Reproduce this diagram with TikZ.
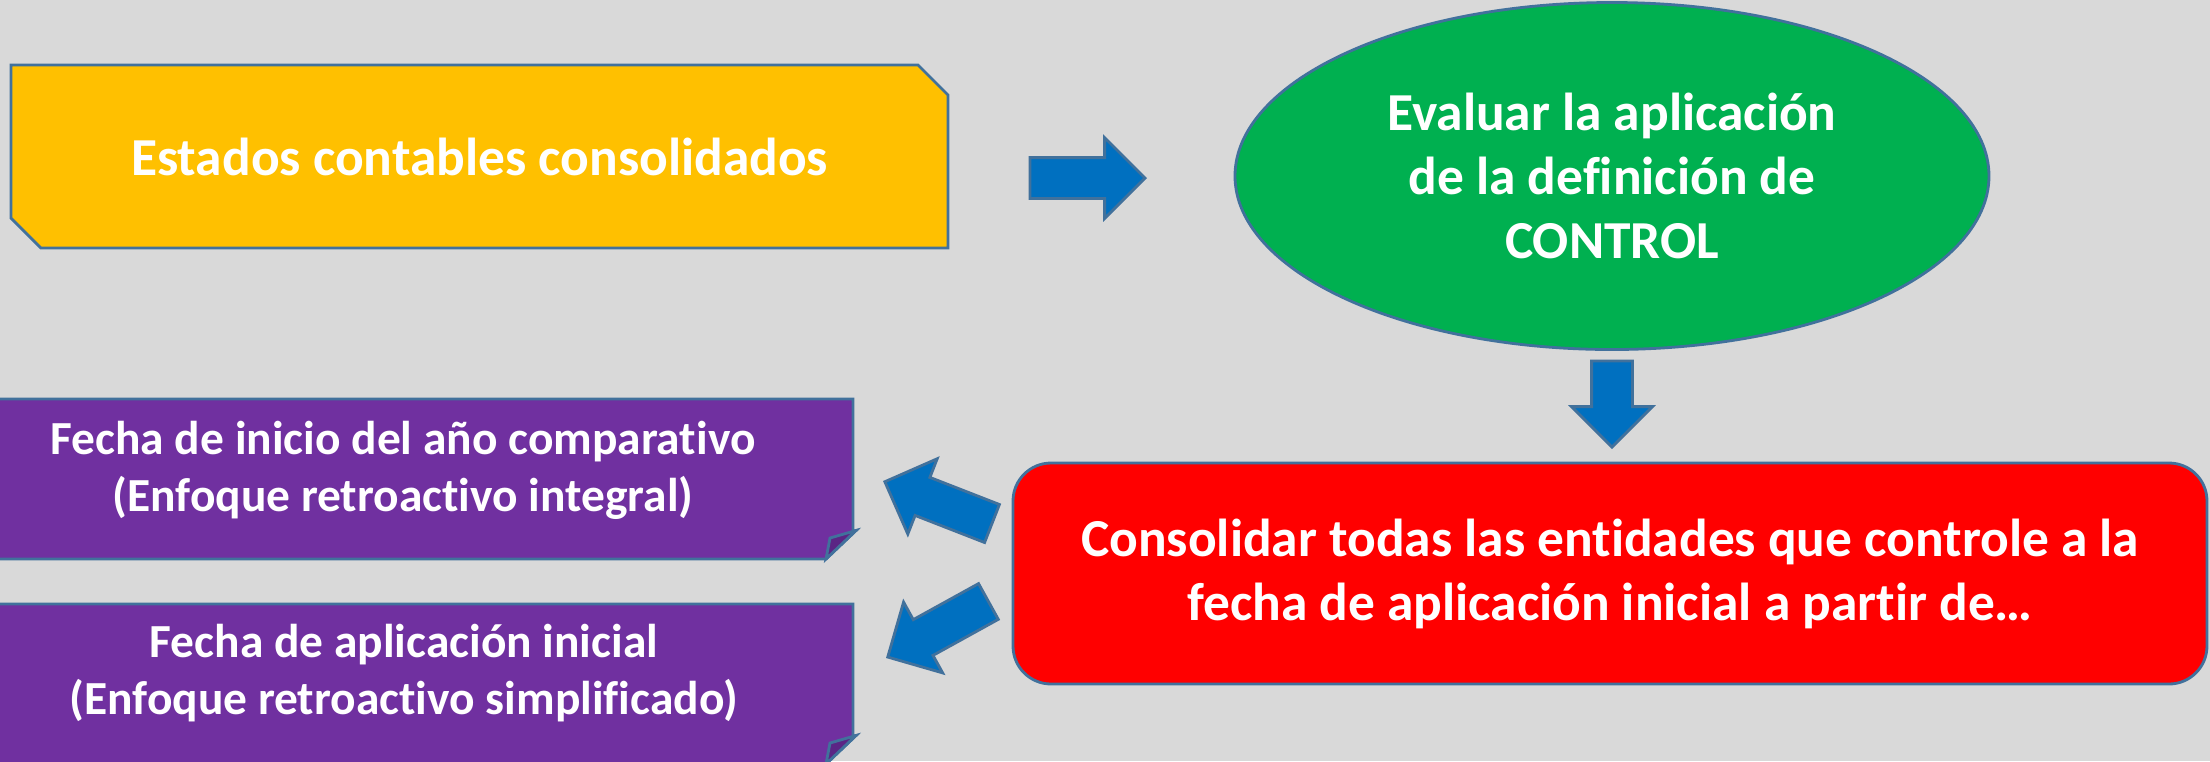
\documentclass[tikz,border=0pt]{standalone}
\usepackage{fontspec}
\setmainfont{Carlito}[Ligatures={NoCommon,NoRequired}]
\usetikzlibrary{positioning,shapes.geometric,shapes.arrows,shapes.misc}
\definecolor{fondo}{HTML}{D9D9D9}
\definecolor{borde}{HTML}{41719C}
\definecolor{amarillo}{HTML}{FFC000}
\definecolor{verde}{HTML}{00B050}
\definecolor{rojo}{HTML}{FF0000}
\definecolor{violeta}{HTML}{7030A0}
\definecolor{violetaosc}{HTML}{5B2585}
\definecolor{azul}{HTML}{0070C0}

\begin{document}
\begin{tikzpicture}
    [font=\fontsize{15.2}{18.2}\selectfont\bfseries,
    every node/.style={text=white, align=center, inner sep=0pt},
    caja/.style={draw=borde, line width=0.8pt},
    flecha/.style={caja, fill=azul, single arrow, single arrow head extend=0.2cm,
        inner xsep=0pt, inner ysep=0.19cm, minimum width=0.78cm,
        minimum height=1.15cm, anchor=tip},
    fecha/.style={font=\fontsize{13.5}{16.2}\selectfont\bfseries}]
    \fill[fondo] (0,0) rectangle (22.1,-7.61);
    \useasboundingbox (0,0) rectangle (22.1,-7.61);
    \node (estados) [caja, fill=amarillo, chamfered rectangle,
        chamfered rectangle corners={north east,south west},
        chamfered rectangle xsep=0.15cm, chamfered rectangle ysep=0.15cm,
        minimum width=9.37cm, minimum height=1.83cm] at (4.795,-1.565)
        {Estados contables consolidados};
    \node (evaluar) [caja, fill=verde, ellipse, minimum width=7.54cm,
        minimum height=3.47cm] at (16.12,-1.76)
        {Evaluar la aplicación\\de la definición de\\CONTROL};
    \node (consolidar) [caja, fill=rojo, rectangle, rounded corners=0.38cm,
        minimum width=11.94cm, minimum height=2.21cm] at (16.10,-5.735)
        {Consolidar todas las entidades que controle a la\\fecha de aplicación inicial a partir de…};
    \filldraw[caja, fill=violeta] (-0.5,-3.99) -- (8.53,-3.99) -- (8.53,-5.31)
        -- (8.56,-5.305) -- (8.26,-5.59) -- (-0.5,-5.59) -- cycle;
    \filldraw[caja, fill=violetaosc] (8.56,-5.305) -- (8.30,-5.38) -- (8.26,-5.59) -- cycle;
    \node (inicio) [fecha] at (4.03,-4.70)
        {Fecha de inicio del año comparativo\\(Enfoque retroactivo integral)};
    \filldraw[caja, fill=violeta] (-0.5,-6.04) -- (8.53,-6.04) -- (8.53,-7.36)
        -- (8.56,-7.355) -- (8.26,-7.64) -- (-0.5,-7.64) -- cycle;
    \filldraw[caja, fill=violetaosc] (8.56,-7.355) -- (8.30,-7.43) -- (8.26,-7.64) -- cycle;
    \node (aplicacion) [fecha] at (4.04,-6.735)
        {Fecha de aplicación inicial\\(Enfoque retroactivo simplificado)};
    \node (a1) [flecha] at (11.47,-1.78) {};
    \node (a2) [flecha, rotate=-90, minimum height=0.86cm] at (16.12,-4.49) {};
    \node (a3) [flecha, rotate=158.7] at (8.83,-4.81) {};
    \node (a4) [flecha, rotate=208.9] at (8.86,-6.58) {};
\end{tikzpicture}
\end{document}
